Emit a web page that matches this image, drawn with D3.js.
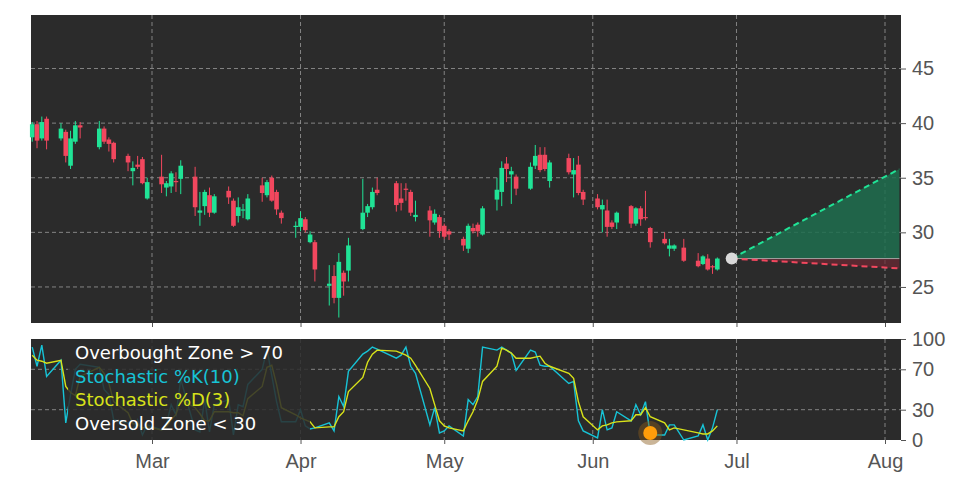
<!DOCTYPE html>
<html><head><meta charset="utf-8">
<script src="https://cdn.jsdelivr.net/npm/d3@7"></script>
<style>body{margin:0;background:#fff}svg{display:block;font-family:"DejaVu Sans",sans-serif}</style>
</head><body><svg id="c" width="972" height="486"></svg>
<script>
const holidays=["2025-02-17","2025-04-18","2025-05-26","2025-06-19"];
const open=[38.7,39.9,38.6,40.4,38.6,39.2,36.1,38.3,39.8,37.8,39.5,38.5,38.2,37.0,35.6,36.2,36.7,33.1,35.1,34.1,34.2,34.7,34.9,35.1,31.8,32.4,33.4,31.8,33.8,32.9,31.5,32.0,31.2,34.3,33.4,35.0,33.7,31.8,30.5,30.5,31.2,29.1,29.1,25.1,26.0,24.0,26.3,26.5,30.3,31.8,32.3,33.9,34.5,33.1,34.0,33.7,31.4,32.0,30.9,31.4,30.6,30.1,29.4,28.5,30.4,30.7,29.8,33.0,33.7,36.3,35.3,35.1,34.0,36.1,37.1,37.1,34.7,36.8,35.3,36.2,33.7,33.1,32.1,32.0,30.9,30.9,32.4,30.8,32.2,31.4,30.4,29.4,28.5,28.5,28.6,27.4,27.1,27.6,26.9,26.6];
const high=[40.1,40.2,40.6,40.6,40.0,39.4,39.3,40.2,40.1,40.2,39.7,38.7,38.3,37.2,36.5,37.0,36.9,35.0,37.1,34.7,35.6,35.5,36.6,36.0,33.7,33.9,34.1,33.5,34.2,33.1,33.2,32.6,33.5,35.0,34.8,35.2,33.9,32.0,31.0,31.9,31.4,30.1,29.3,27.0,27.0,28.1,26.5,29.5,34.9,32.6,34.1,35.0,34.7,34.5,34.5,33.9,32.9,32.4,32.1,31.6,30.8,30.3,29.6,30.8,30.8,30.9,32.4,35.0,36.5,36.9,36.0,35.3,36.4,38.0,37.8,37.8,36.6,37.2,36.8,37.0,33.9,33.5,33.0,33.0,31.1,31.9,32.5,32.3,32.4,33.8,30.5,30.0,29.4,28.9,29.4,28.1,27.9,28.0,27.0,27.7];
const low=[38.3,37.7,38.4,37.6,38.4,36.4,35.8,38.1,38.6,37.6,38.1,37.4,36.4,35.6,34.3,35.8,34.4,33.0,33.6,33.3,33.6,33.7,33.5,31.5,30.6,31.6,31.4,31.7,32.6,30.5,30.9,31.3,31.1,32.8,33.2,32.8,31.6,30.8,29.5,30.1,30.0,29.0,25.5,23.3,23.5,22.2,24.2,25.5,30.2,31.4,32.1,33.4,31.9,32.0,32.9,31.5,31.0,29.6,30.7,29.5,29.4,29.3,28.3,28.1,29.9,29.6,29.7,32.0,32.4,34.6,32.6,33.4,33.9,35.8,35.5,35.6,34.1,35.3,33.2,33.4,32.5,32.1,30.0,29.6,30.3,30.3,30.4,30.6,30.6,31.1,28.6,28.9,27.8,28.3,27.3,26.8,27.0,26.5,26.2,26.5];
const close=[39.9,38.4,40.1,38.4,39.5,37.0,38.6,39.8,39.6,39.5,38.3,38.1,36.7,36.4,35.9,36.0,34.5,34.6,34.4,34.5,35.4,34.6,36.1,32.3,32.0,33.7,31.8,33.3,33.2,30.6,32.3,32.1,33.1,33.6,34.6,32.9,32.1,31.3,30.6,31.3,30.2,29.8,26.6,25.3,24.0,27.3,25.5,28.8,31.8,32.4,33.7,33.6,32.5,32.7,33.9,31.8,31.6,31.1,31.7,30.1,29.6,29.8,28.8,30.6,30.1,30.1,32.2,33.9,35.9,35.8,35.6,34.0,36.0,37.0,35.7,35.8,36.4,35.5,35.7,33.6,33.0,32.3,32.5,30.5,30.5,31.8,30.8,32.2,31.2,31.3,29.1,29.0,28.8,28.8,27.4,26.9,27.8,26.6,26.8,27.6];
const stochK=[92,73,94,63,79,17,45,70,75,72,50,45,20,17,10,20,5,15,10,15,35,25,60,10,8,40,8,35,40,5,35,33,55,70,90,64,38,18,18,30,14,11,12,17,9,43,33,68,85,88,92,90,81,84,92,73,66,15,32,7,9,14,4,40,35,43,92,89,92,89,86,69,89,87,74,73,73,56,58,19,9,2,30,10,12,28,19,35,25,38,5,5,15,15,0,4,15,0,12,30];
const stochD=[84,79,78,76,79,53,47,44,63,72,66,56,38,27,16,16,12,13,10,13,20,25,40,32,26,19,19,28,28,27,27,24,41,53,72,74,55,32,25,22,20,18,12,13,13,23,28,48,62,77,85,89,88,86,84,81,74,51,35,19,14,12,9,19,28,40,58,73,91,89,86,81,81,82,83,76,73,66,61,38,23,10,14,15,17,18,19,25,25,32,23,17,10,12,10,7,6,6,9,14];
const priceTicks=[25,30,35,40,45];
const stochTicks=[0,30,70,100];
const monthTicks=["2025-03-01","2025-04-01","2025-05-01","2025-06-01","2025-07-01","2025-08-01"];
const monthLabels=["Mar","Apr","May","Jun","Jul","Aug"];
const forecastStart={date:"2025-06-30",value:27.6};
const forecastEnd={date:"2025-08-04",upper:35.8,lower:26.7};
const signalDot={date:"2025-06-13",value:7};

// trading dates
const P=d3.timeParse("%Y-%m-%d");
const dates=[];
for(let d=P("2025-02-04");dates.length<close.length;d=d3.timeDay.offset(d,1)){
  const s=d3.timeFormat("%Y-%m-%d")(d);
  if(d.getDay()===0||d.getDay()===6||holidays.includes(s))continue;
  dates.push(new Date(d));
}
const svg=d3.select("#c");
const L=31,R=901,T=15,B=323,T2=339,B2=440;
const x=d3.scaleTime().domain([P("2025-03-01"),P("2025-08-01")]).range([152,885]);
x.domain([x.invert(L),x.invert(R)]).range([L,R]);
const y=d3.scaleLinear().domain([21.7,49.9]).range([B,T]);
const y2=d3.scaleLinear().domain([0,100]).range([B2,T2]);
const bg="#2b2b2b",grid="#9a9a9a";
svg.append("rect").attr("x",L).attr("y",T).attr("width",R-L).attr("height",B-T).attr("fill",bg);
svg.append("rect").attr("x",L).attr("y",T2).attr("width",R-L).attr("height",B2-T2).attr("fill",bg);
const mt=monthTicks.map(P);
const g1=svg.append("g");
mt.forEach(d=>{
  g1.append("line").attr("x1",x(d)).attr("x2",x(d)).attr("y1",T).attr("y2",B).attr("stroke",grid).attr("stroke-dasharray","4,3").attr("stroke-width",0.8);
  g1.append("line").attr("x1",x(d)).attr("x2",x(d)).attr("y1",T2).attr("y2",B2).attr("stroke",grid).attr("stroke-dasharray","4,3").attr("stroke-width",0.8);
});
priceTicks.forEach(v=>g1.append("line").attr("x1",L).attr("x2",R).attr("y1",y(v)).attr("y2",y(v)).attr("stroke",grid).attr("stroke-dasharray","4,3").attr("stroke-width",0.8));
[30,70].forEach(v=>g1.append("line").attr("x1",L).attr("x2",R).attr("y1",y2(v)).attr("y2",y2(v)).attr("stroke",grid).attr("stroke-dasharray","4,3").attr("stroke-width",0.8));

// axes
const ax=svg.append("g").attr("transform",`translate(${R},0)`).call(d3.axisRight(y).tickValues(priceTicks).tickSize(5).tickPadding(6));
const ax2=svg.append("g").attr("transform",`translate(${R},0)`).call(d3.axisRight(y2).tickValues(stochTicks).tickSize(5).tickPadding(6));
const bx=svg.append("g").attr("transform",`translate(0,${B})`).call(d3.axisBottom(x).tickValues(mt).tickFormat("").tickSize(4));
const bx2=svg.append("g").attr("transform",`translate(0,${B2})`).call(d3.axisBottom(x).tickValues(mt).tickFormat((d,i)=>monthLabels[i]).tickSize(4).tickPadding(6));
[ax,ax2,bx,bx2].forEach(a=>{a.select(".domain").remove();a.selectAll("line").attr("stroke","#555");a.selectAll("text").attr("fill","#555").style("font-size","20px");});
bx2.selectAll("text").attr("dy","0.9em");

// candles
const cg=svg.append("g");
const up="#20e396",dn="#f2475e",w=4.6;
close.forEach((c,i)=>{
  const col=c>=open[i]?up:dn, xx=x(dates[i]);
  cg.append("line").attr("x1",xx).attr("x2",xx).attr("y1",y(high[i])).attr("y2",y(low[i])).attr("stroke",col).attr("stroke-width",1);
  const t=y(Math.max(open[i],c)),b=y(Math.min(open[i],c));
  cg.append("rect").attr("x",xx-w/2).attr("y",t).attr("width",w).attr("height",Math.max(1.2,b-t)).attr("fill",col);
});
// forecast
const fx0=x(P(forecastStart.date)),fx1=x(P(forecastEnd.date)),fy0=y(forecastStart.value);
svg.append("path").attr("d",`M${fx0},${fy0}L${fx1},${y(forecastEnd.upper)}L${fx1},${fy0}Z`).attr("fill","#1f6e4f").attr("opacity",0.85);
svg.append("path").attr("d",`M${fx0},${fy0}L${fx1},${y(forecastEnd.lower)}L${fx1},${fy0}Z`).attr("fill","#6e2a35").attr("opacity",0.7);
svg.append("line").attr("x1",fx0).attr("x2",fx1).attr("y1",fy0).attr("y2",fy0).attr("stroke","#bbb").attr("stroke-width",0.8);
svg.append("line").attr("x1",fx0).attr("x2",fx1).attr("y1",fy0).attr("y2",y(forecastEnd.upper)).attr("stroke","#20e396").attr("stroke-width",2).attr("stroke-dasharray","6,4");
svg.append("line").attr("x1",fx0).attr("x2",fx1).attr("y1",fy0).attr("y2",y(forecastEnd.lower)).attr("stroke","#f2475e").attr("stroke-width",2).attr("stroke-dasharray","6,4");
svg.append("circle").attr("cx",fx0).attr("cy",fy0).attr("r",6).attr("fill","#d9d9d9");

// stochastic
const line=arr=>d3.line().x((d,i)=>x(dates[i])).y(d=>y2(d))(arr);
svg.append("path").attr("d",line(stochK)).attr("fill","none").attr("stroke","#17c3d6").attr("stroke-width",1.4);
svg.append("path").attr("d",line(stochD)).attr("fill","none").attr("stroke","#d8e21a").attr("stroke-width",1.4);
const sx=x(P(signalDot.date)),sy=y2(signalDot.value);
svg.append("circle").attr("cx",sx).attr("cy",sy).attr("r",12).attr("fill","#8a5a1a").attr("opacity",0.45);
svg.append("circle").attr("cx",sx).attr("cy",sy).attr("r",7).attr("fill","#ff9d0a");
// legend
svg.append("rect").attr("x",68).attr("y",T2).attr("width",242).attr("height",B2-T2).attr("fill","#2b2b2b").attr("opacity",0.85);
const lg=[["Overbought Zone > 70","#ffffff"],["Stochastic %K(10)","#17c3d6"],["Stochastic %D(3)","#d8e21a"],["Oversold Zone < 30","#ffffff"]];
lg.forEach((l,i)=>svg.append("text").attr("x",75).attr("y",359+i*23.5).text(l[0]).attr("fill",l[1]).style("font-size","18px"));
</script></body></html>
